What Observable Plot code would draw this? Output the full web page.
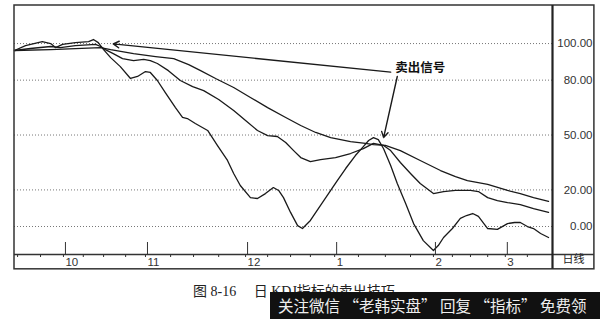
<!DOCTYPE html>
<html>
<head>
<meta charset="utf-8">
<script src="https://cdn.jsdelivr.net/npm/d3@7"></script>
<script src="https://cdn.jsdelivr.net/npm/@observablehq/plot@0.6"></script>
<style>
  html, body { margin: 0; padding: 0; background: #fff; }
  #wrap { position: relative; width: 600px; height: 319px; overflow: hidden; background: #fff; }
  #chart { position: absolute; left: 0; top: 0; }
  #caption { position: absolute; left: 193px; top: 280px; font-family: "Liberation Serif", "DejaVu Serif", "Noto Sans CJK SC", serif; font-size: 14px; color: #222; white-space: nowrap; }
  #bar { position: absolute; left: 270px; top: 292px; width: 330px; height: 27px; background: #111; color: #eee;
         font-family: "Noto Sans CJK SC", sans-serif; font-size: 15.5px; line-height: 27px; padding-left: 8px; white-space: nowrap; box-sizing: border-box; }
</style>
</head>
<body>
<div id="wrap">
  <div id="chart"></div>
  <div id="caption">图 8-16　 日 KDJ指标的卖出技巧</div>
  <div id="bar">关注微信 “老韩实盘” 回复 “指标” 免费领</div>
</div>
<script>
// ---- data (day index, value) ----
const jDays = [0,2.5,6.3,8.2,9.3,10.9,13.8,16.8,17.9,19,20.2,21.8,24,26.3,27.9,29.7,30.8,32.4,34.2,36.5,38.1,39.2,41,43.8,46,48.3,49.7,51.2,53.5,55.1,56.9,58.7,59.9,61,62.6,64.2,65.3,67.1,69.4,71.7,73.2,75.1,77.3,79.1,80.3,81.4,82.5,83.7,85.3,86.8,88.7,90.5,92.7,95,96.1,97.3,99.3,101.1,102.5,103.9,105.2,107.3,109.5,111.8,113.4,114.7,116.3,117.7,119.3,121.1];
const jVals = [96.2,98.9,101.1,100,97.8,99.5,100.5,101.1,102.2,100.5,96.7,92.3,87.4,80.9,82,84.7,84.2,79.8,73.2,65,59.6,59,56.3,52.5,44.3,36.1,29,22.4,15.8,15.3,18,21.3,19.7,15.8,7.7,0.5,-1.1,3.3,11.5,19.7,25.1,31.7,38.8,43.7,47,48.6,47.5,42.5,33.3,23.5,12.6,1.6,-7.7,-13.1,-10.4,-6,-1.1,4.4,6,7.1,5.5,-1.1,-1.6,1.6,2.2,2.2,0,-1.1,-3.8,-6];

const kDays = [0,3.6,8.2,10.4,13.8,18.4,19.5,20.6,22.4,24.5,27,29.3,30.8,32.4,34.9,37.6,40.4,42.9,46.3,49.7,52.4,55.1,57.4,59.6,61.5,63.3,64.9,67.1,69.4,72.8,76.2,79.1,81.4,83.7,85.3,87.5,89.8,92,95,97.3,100,103.4,105.2,107.3,109.5,111.8,114.7,117.7,121.1];
const kVals = [96.2,97.3,98.4,97.8,98.9,99.5,98.4,96.7,94.5,91.8,90.7,91.3,90.7,89.1,85.2,79.8,76.5,74.3,69.4,63.4,57.9,52.5,49.7,49.2,45.9,41.5,37.7,35.5,36.6,37.7,39.9,42.6,45.4,44.3,41.5,35,29,23.5,18,19.1,19.7,19.7,19.1,15.8,14.2,13.1,12,9.8,7.7];

const dDays = [0,8.2,19.5,21.8,27,32,36.1,39.5,42.2,45.6,49.7,53.5,57.4,61.5,64.9,68.3,71.7,76.2,79.6,81.4,84.1,87.5,92,96.6,100,102.7,107.3,111.8,114.7,117.7,121.1];
const dVals = [96.2,96.7,97.8,96.7,94.5,92.9,91.8,88.5,85.2,80.9,76,70.5,65,59.6,55.2,51.4,48.6,46.4,45.4,44.8,44.3,41.5,36.1,30.6,27.3,25.1,23,19.7,18,15.8,13.7];

// axis ticks
const yTicks = [100, 80, 50, 20, 0];
const monthTickDays = [11.1, 29.7, 52.4, 72.6, 95, 111.3];
const monthLabels = ["10", "11", "12", "1", "2", "3"];
const weekTickDays = [0.7, 5.9, 11.1, 15.6, 20.2, 25.2, 29.7, 35.4, 40.6, 46.3, 52.4, 57.4, 62.6, 67.1, 72.6, 78, 84.1, 89.8, 95, 99.3, 103.4, 107.3, 111.3, 116.3];
const periodLabel = ["日线"];

// annotation (in data units)
const signalText = ["卖出信号"];
const signalAnchor = [{day: 92, value: 86.9}];
const signalArrows = [
  {x1: 85.3, y1: 84.4, x2: 22.4, y2: 99.8},
  {x1: 86.8, y1: 82.0, x2: 83.7, y2: 48.6}
];

// panel layout in data units: plot domain, and the outer box (right panel + date band)
const xDomain = [0, 122], yDomain = [-15.3, 120.8];
const xOuter = 131.5, yOuter = -23.4;

const toRows = (days, vals) => days.map((d, i) => ({day: d, value: vals[i]}));
const J = toRows(jDays, jVals), K = toRows(kDays, kVals), D = toRows(dDays, dVals);

const lineStyle = {x: "day", y: "value", stroke: "#1a1a1a", strokeWidth: 1.3, curve: "linear"};
const border = {stroke: "#333", strokeWidth: 1.5};

const chart = Plot.plot({
  width: 600,
  height: 290,
  marginLeft: 14,
  marginRight: 48,
  marginTop: 5,
  marginBottom: 36,
  style: {fontFamily: "Arial, 'Liberation Sans', sans-serif", background: "#fff"},
  x: {domain: xDomain},
  y: {domain: yDomain},
  marks: [
    Plot.gridY(yTicks, {stroke: "#555", strokeOpacity: 0.8, strokeDasharray: "1,2", strokeWidth: 1}),
    Plot.line(D, lineStyle),
    Plot.line(K, lineStyle),
    Plot.line(J, lineStyle),
    Plot.arrow(signalArrows, {x1: "x1", y1: "y1", x2: "x2", y2: "y2", stroke: "#1a1a1a", strokeWidth: 1.4, headLength: 7, bend: false}),
    Plot.text(signalText, {x: () => signalAnchor[0].day, y: () => signalAnchor[0].value, text: d => d, fontWeight: "bold", fontSize: 12.5, fill: "#111", fontFamily: "'Noto Sans CJK SC', sans-serif"}),
    Plot.axisY(yTicks, {anchor: "right", tickSize: 0, tickPadding: 40, textAnchor: "end", tickFormat: d => d.toFixed(2), fontSize: 11.5, fill: "#333", label: null}),
    Plot.axisX(weekTickDays, {tickSize: 3, tickFormat: () => "", label: null, stroke: "#333"}),
    Plot.axisX(monthTickDays, {tickSize: 12, tickFormat: (d, i) => monthLabels[i], textAnchor: "start", dx: 2, dy: -12, fontSize: 11.5, fill: "#333", stroke: "#333", label: null}),
    Plot.text(periodLabel, {frameAnchor: "bottom-right", text: d => d, dx: 21, dy: 8, fontSize: 11, fill: "#222", fontFamily: "'Noto Sans CJK SC', sans-serif", textAnchor: "middle"}),
    // outer box
    Plot.rect([0], {x1: xDomain[0], x2: xOuter, y1: yOuter, y2: yDomain[1], fill: "none", ...border}),
    // date band top line, across the right panel too
    Plot.ruleY([yDomain[0]], {x1: xDomain[0], x2: xOuter, ...border}),
    // separator between plot and right scale panel
    Plot.ruleX([xDomain[1]], {y1: yOuter, y2: yDomain[1], stroke: "#222", strokeWidth: 2.2})
  ]
});
document.getElementById("chart").appendChild(chart);
</script>
</body>
</html>
